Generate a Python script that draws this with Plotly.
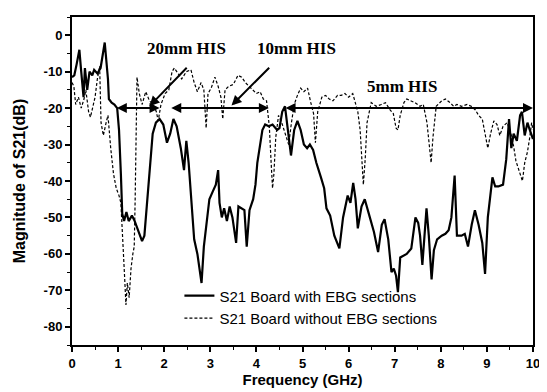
import plotly.graph_objects as go

# ---- data ----
freq_ebg = [0.0, 0.05, 0.1, 0.16, 0.2, 0.25, 0.28, 0.33, 0.38, 0.44, 0.48, 0.55, 0.62, 0.71, 0.78, 0.8,
            0.86, 0.92, 0.98, 1.02, 1.06, 1.09, 1.13, 1.18, 1.23, 1.3, 1.36, 1.45, 1.52, 1.57, 1.62, 1.68,
            1.75, 1.82, 1.9, 1.98, 2.06, 2.13, 2.2, 2.27, 2.36, 2.43, 2.48, 2.53, 2.58, 2.65, 2.72, 2.78,
            2.81, 2.86, 2.92, 2.98, 3.05, 3.12, 3.17, 3.2, 3.25, 3.3, 3.36, 3.42, 3.48, 3.56, 3.61, 3.68,
            3.74, 3.79, 3.85, 3.93, 3.98, 4.02, 4.08, 4.13, 4.19, 4.27, 4.35, 4.45, 4.5, 4.56, 4.62, 4.7,
            4.75, 4.82, 4.89, 4.96, 5.03, 5.1, 5.16, 5.23, 5.3, 5.4, 5.47, 5.52, 5.6, 5.69, 5.8, 5.88,
            5.98, 6.04, 6.1, 6.15, 6.2, 6.28, 6.35, 6.45, 6.55, 6.64, 6.72, 6.78, 6.86, 6.93, 6.98, 7.03,
            7.07, 7.12, 7.18, 7.26, 7.36, 7.45, 7.51, 7.55, 7.6, 7.69, 7.74, 7.8, 7.85, 7.92, 8.02, 8.1,
            8.17, 8.23, 8.3, 8.35, 8.45, 8.52, 8.59, 8.67, 8.74, 8.82, 8.9, 8.96, 9.02, 9.08, 9.12, 9.18,
            9.25, 9.35, 9.42, 9.48, 9.53, 9.58, 9.65, 9.72, 9.76, 9.82, 9.88, 9.93, 10.0]
s21_ebg = [-11.5, -11, -8, -4, -10, -17, -9, -15, -10, -11, -9.5, -10.5, -9, -2, -12, -17.5,
           -18.5, -19, -20, -26, -38, -49, -51, -48.5, -51, -49.5, -51, -54, -56.5, -55, -47, -38,
           -27, -24, -23, -24.5, -29.5, -27, -23, -25, -31, -37, -29, -35, -45, -56, -60, -66,
           -68, -58, -52, -45, -43, -41, -37, -46, -50, -47.5, -51, -47, -50, -57, -47, -47.5,
           -48, -58, -48, -45, -41, -35, -30, -26, -24.5, -25, -24.5, -26, -25.5, -21, -19.5, -28,
           -33, -26, -23.5, -26, -30, -31, -30, -31.5, -35, -39, -42, -47.5, -49.5, -55, -58.5, -50,
           -44, -46, -40.5, -45, -53, -47, -45, -49.5, -54, -59.5, -52, -50.5, -56, -65, -64, -66,
           -70.5, -61, -60.5, -60, -58.5, -50, -51.5, -55, -63, -47.5, -55, -67, -59, -56, -55, -54.5,
           -53.5, -50, -38.5, -55, -55, -54.5, -58, -52, -48, -52, -57, -65.5, -50, -44, -39, -41.5,
           -41.5, -41, -34, -23, -31, -27, -29, -22, -21, -27.5, -24, -26, -28.5]

freq_noebg = [0.0, 0.04, 0.08, 0.14, 0.2, 0.26, 0.3, 0.36, 0.4, 0.44, 0.5, 0.55, 0.6, 0.63, 0.68, 0.74,
              0.78, 0.84, 0.9, 0.96, 1.02, 1.06, 1.1, 1.14, 1.17, 1.2, 1.24, 1.28, 1.32, 1.35, 1.37, 1.39,
              1.41, 1.46, 1.52, 1.6, 1.68, 1.76, 1.83, 1.87, 1.93, 2.02, 2.1, 2.17, 2.22, 2.3, 2.38, 2.48,
              2.58, 2.65, 2.72, 2.8, 2.86, 2.91, 2.95, 3.02, 3.1, 3.17, 3.23, 3.27, 3.32, 3.4, 3.5, 3.6,
              3.68, 3.76, 3.84, 3.92, 4.0, 4.08, 4.15, 4.22, 4.28, 4.32, 4.35, 4.38, 4.42, 4.48, 4.55, 4.6,
              4.65, 4.7, 4.76, 4.82, 4.89, 4.96, 5.03, 5.11, 5.18, 5.24, 5.28, 5.33, 5.42, 5.5, 5.58, 5.66,
              5.76, 5.84, 5.92, 6.0, 6.09, 6.15, 6.2, 6.25, 6.29, 6.32, 6.36, 6.4, 6.49, 6.6, 6.71, 6.8,
              6.9, 6.97, 7.03, 7.07, 7.12, 7.2, 7.26, 7.35, 7.44, 7.55, 7.62, 7.7, 7.75, 7.79, 7.83, 7.9,
              8.02, 8.1, 8.2, 8.28, 8.35, 8.45, 8.57, 8.66, 8.75, 8.82, 8.9, 8.96, 9.02, 9.08, 9.15, 9.22,
              9.28, 9.35, 9.44, 9.52, 9.58, 9.63, 9.7, 9.77, 9.82, 9.88, 9.93, 9.97, 10.0]
s21_noebg = [-13, -14, -19, -17, -20, -17.5, -15, -21, -22.5, -20, -17, -12, -8.5, -24, -27.5, -24,
             -22, -31, -38, -42, -44, -46, -58, -66, -74, -68, -72, -64, -60, -58, -45, -28,
             -11.5, -16, -19, -15.5, -18, -19, -21, -23.5, -19, -16, -15, -10, -9, -10.5, -12, -10,
             -9.5, -13, -15.5, -13, -15, -25.5, -16, -14.5, -11.5, -14, -17, -23, -15, -14, -13.5, -11,
             -11.5, -13, -14, -15, -16, -15.5, -17.5, -18, -25, -35, -42, -38, -28, -22, -24, -26,
             -28, -30, -24, -19, -16.5, -14.5, -15.5, -14.5, -18.5, -21.5, -29.5, -21, -17, -16.5, -17.5, -18,
             -16.5, -16.5, -16, -17, -16, -19, -21, -26, -34, -41, -34, -24, -18.5, -19.5, -19, -18.5,
             -20.5, -21.5, -25.5, -26, -22, -18.5, -17.5, -18, -18.5, -19.5, -19, -24, -30, -35, -28, -19.5,
             -18, -17.5, -18.5, -19.5, -19, -19.5, -19, -19.5, -20.5, -22, -23, -27.5, -31, -27, -23.5, -24.5,
             -27.5, -25, -24, -27, -30.5, -34.5, -37, -40, -35, -32, -28, -24, -26]

x_ticks = [0, 1, 2, 3, 4, 5, 6, 7, 8, 9, 10]
x_ticktext = ["0", "1", "2", "3", "4", "5", "6", "7", "8", "9", "10"]
y_ticks = [0, -10, -20, -30, -40, -50, -60, -70, -80]
y_ticktext = ["0", "-10", "-20", "-30", "-40", "-50", "-60", "-70", "-80"]

# band arrows at -20 dB (start, end) and label arrows (tail -> head)
band_level = -20
bands = [(0.94, 1.9), (2.12, 4.27), (4.6, 10.0)]
labels = [("20mm HIS", 2.49, -3.6), ("10mm HIS", 4.88, -3.6), ("5mm HIS", 7.16, -14.2)]
pointer_arrows = [((2.52, -8.5), (1.68, -19.5)), ((4.31, -8.5), (3.46, -19.3))]

fig = go.Figure()
fig.add_trace(go.Scatter(x=freq_ebg, y=s21_ebg, mode="lines",
                         name="S21 Board with EBG sections",
                         line=dict(color="black", width=2.2)))
fig.add_trace(go.Scatter(x=freq_noebg, y=s21_noebg, mode="lines",
                         name="S21 Board without EBG sections",
                         line=dict(color="black", width=1.2, dash="3px,2px")))

ann = []
for (a, b) in bands:
    ann.append(dict(x=b, y=band_level, ax=a, ay=band_level, xref="x", yref="y",
                    axref="x", ayref="y", text="", showarrow=True, arrowhead=2,
                    arrowside="end+start", arrowsize=1, arrowwidth=2, arrowcolor="black"))
for (tail, head) in pointer_arrows:
    ann.append(dict(x=head[0], y=head[1], ax=tail[0], ay=tail[1], xref="x", yref="y",
                    axref="x", ayref="y", text="", showarrow=True, arrowhead=2,
                    arrowsize=1, arrowwidth=2, arrowcolor="black"))
for (t, lx, ly) in labels:
    ann.append(dict(x=lx, y=ly, xref="x", yref="y", text=t, showarrow=False,
                    font=dict(family="Liberation Serif", size=17, color="black", weight="bold")))

fig.update_layout(
    width=547, height=392,
    margin=dict(l=64, r=22, t=7, b=55),
    paper_bgcolor="white", plot_bgcolor="white",
    font=dict(family="Liberation Sans", color="black"),
    annotations=ann,
    showlegend=True,
    legend=dict(x=0.233, y=0.2, xanchor="left", yanchor="top",
                bgcolor="rgba(0,0,0,0)", font=dict(size=15, family="Liberation Sans"),
                tracegroupgap=0, itemwidth=30),
)
fig.update_xaxes(range=[0, 10], tickvals=x_ticks, ticktext=x_ticktext,
                 showline=True, linecolor="black", linewidth=2, mirror=True,
                 ticks="outside", ticklen=5, tickwidth=1.5, tickcolor="black",
                 minor=dict(ticks="outside", ticklen=3, dtick=0.5, tickcolor="black", tickwidth=1),
                 showgrid=False, zeroline=False,
                 tickfont=dict(size=13, family="Liberation Sans", weight="bold"),
                 title=dict(text="Frequency (GHz)", standoff=3,
                            font=dict(size=15, family="Liberation Sans", weight="bold")))
fig.update_yaxes(range=[-85, 5], tickvals=y_ticks, ticktext=y_ticktext,
                 showline=True, linecolor="black", linewidth=2, mirror=True,
                 ticks="outside", ticklen=5, tickwidth=1.5, tickcolor="black",
                 minor=dict(ticks="outside", ticklen=3, dtick=5, tickcolor="black", tickwidth=1),
                 showgrid=False, zeroline=False,
                 tickfont=dict(size=13, family="Liberation Sans", weight="bold"),
                 title=dict(text="Magnitude of S21(dB)", standoff=14,
                            font=dict(size=16, family="Liberation Sans", weight="bold")))

fig.write_html("out.html")
